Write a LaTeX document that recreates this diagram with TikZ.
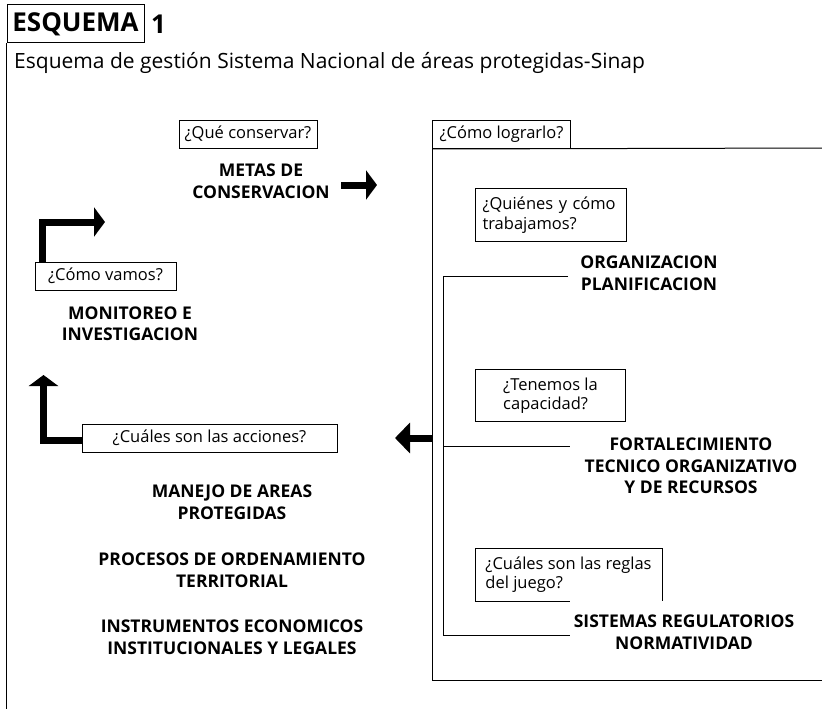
\documentclass[tikz,border=0pt]{standalone}
\usepackage{fontspec}
\setmainfont{Open Sans}
\usetikzlibrary{arrows.meta}
\begin{document}
\begin{tikzpicture}[x=1pt,y=-1pt,
  thinline/.style={line width=1pt},
  qbox/.style={draw, line width=1pt, inner sep=0pt, font=\fontsize{16.5}{19.5}\selectfont, align=left},
  ttl/.style={font=\bfseries\fontsize{17.5}{21.5}\selectfont, align=center, inner sep=0pt},
  fat/.style={line width=7pt, -{Triangle[width=29pt,length=11pt]}},
  fatl/.style={line width=7pt, -{Triangle[width=30pt,length=15pt]}},
]
\useasboundingbox[fill=white] (0,0) rectangle (822,709);

% header
\node[draw, line width=1pt, minimum width=137pt, minimum height=38pt, inner sep=0pt,
      font=\bfseries\fontsize{26}{30}\selectfont] (esq) at (75.5,24) {ESQUEMA};
\node[anchor=west, inner sep=0pt, font=\bfseries\fontsize{26}{30}\selectfont] (num) at (151,24) {1};
\coordinate (bl) at (6.5,709);
\draw[thinline] (esq.south west) -- (bl);
\node[anchor=west, inner sep=0pt, font=\fontsize{21}{25}\selectfont] (sub) at (14,63)
  {Esquema de gestión Sistema Nacional de áreas protegidas-Sinap};

% top middle
\node[qbox, minimum width=138pt, minimum height=28pt, align=center] (que) at (248,134) {¿Qué conservar?};
\node[ttl] (metas) at (261,181) {METAS DE\\CONSERVACION};
\coordinate (a1s) at (341,185);
\coordinate (a1e) at (377,185);
\draw[fat] (a1s) -- (a1e);

% right big box
\node[qbox, minimum width=138pt, minimum height=28pt, align=center, anchor=north west] (como) at (432,120) {¿Cómo lograrlo?};
\coordinate (tr) at (822,148);
\coordinate (br) at (822,680);
\coordinate (blb) at (432,680);
\draw[thinline] (como.south west) -- (tr);
\draw[thinline] (como.south west) -- (blb) -- (br);

\node[qbox, anchor=north west, minimum width=151pt, minimum height=53pt, inner xsep=7pt, text width=137pt] (quien) at (475,188) {¿Quiénes y cómo\\trabajamos?};
\node[ttl] (org) at (649,273) {ORGANIZACION\\PLANIFICACION};

\coordinate (bk1) at (443,276);
\coordinate (bk1e) at (568,276);
\coordinate (bk2) at (443,446);
\coordinate (bk2e) at (570,446);
\coordinate (bk3) at (443,635);
\coordinate (bk3e) at (570,635);
\draw[thinline] (bk1e) -- (bk1) -- (bk3) -- (bk3e);
\draw[thinline] (bk2) -- (bk2e);

\node[qbox, anchor=north west, minimum width=150pt, minimum height=52pt] (tenem) at (475,369) {¿Tenemos la\\capacidad?};
\node[ttl] (fort) at (691,466) {FORTALECIMIENTO\\TECNICO ORGANIZATIVO\\Y DE RECURSOS};

\node[qbox, draw=none, anchor=north west, minimum width=186pt, minimum height=52pt] (regl) at (475,548) {¿Cuáles son las reglas\\del juego?};
\draw[thinline] (regl.south west) -- (regl.north west) -- (regl.north east) -- (regl.south east);
\draw[thinline] (regl.south west) -- (regl.south west -| bk3e);
\node[ttl] (sist) at (684,632) {SISTEMAS REGULATORIOS\\NORMATIVIDAD};

% left arrow
\coordinate (la1) at (432,438);
\coordinate (la2) at (395,438);
\draw[fatl] (la1) -- (la2);

% actions
\node[qbox, minimum width=255pt, minimum height=28pt, align=center] (acc) at (209.5,438) {¿Cuáles son las acciones?};
\coordinate (b2c) at (43.5,440);
\coordinate (b2t) at (43.5,375);
\draw[fat] (acc.west |- b2c) -- (b2c) -- (b2t);

\node[ttl] (man) at (232,502) {MANEJO DE AREAS\\PROTEGIDAS};
\node[ttl] (proc) at (232,570) {PROCESOS DE ORDENAMIENTO\\TERRITORIAL};
\node[ttl] (inst) at (232,637) {INSTRUMENTOS ECONOMICOS\\INSTITUCIONALES Y LEGALES};

% monitoring
\node[qbox, minimum width=141pt, minimum height=28pt, align=center] (vamos) at (105.5,276) {¿Cómo vamos?};
\coordinate (b1c) at (42,222);
\coordinate (b1t) at (105,222);
\draw[fat] (vamos.north -| b1c) -- (b1c) -- (b1t);
\node[ttl] (mon) at (130,323.5) {MONITOREO E\\INVESTIGACION};
\end{tikzpicture}
\end{document}
